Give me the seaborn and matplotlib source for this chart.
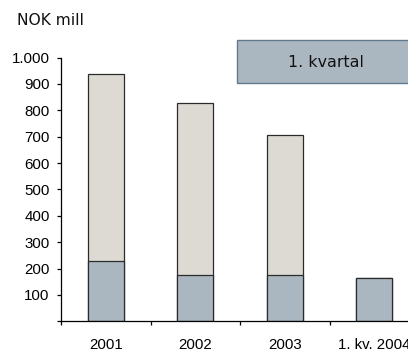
import matplotlib
matplotlib.use("Agg")
import matplotlib.pyplot as plt
import matplotlib.patches as mpatches
from matplotlib.ticker import FixedLocator, FuncFormatter
import seaborn as sns
import pandas as pd

# Values in NOK mill
periods = ["2001", "2002", "2003", "1. kv. 2004"]
lower = [229, 174, 174, 163]
upper = [707, 655, 533, 0]
y_ticks = [0, 100, 200, 300, 400, 500, 600, 700, 800, 900, 1000]

totals = [a + b for a, b in zip(lower, upper)]
df = pd.DataFrame({"period": periods, "lower": lower, "total": totals})

sns.set_theme(style="white")
plt.rcParams["font.family"] = ["Liberation Sans", "DejaVu Sans"]

fig = plt.figure(figsize=(4.08, 3.53), dpi=100)
ax = fig.add_axes([61 / 408, 31.7 / 353, 358 / 408, 263.8 / 353])

light = "#dcdad3"
dark = "#abb7c0"
edge = "#2b2b2b"

sns.barplot(data=df, x="period", y="total", order=periods, color=light,
            saturation=1, width=0.4, edgecolor=edge, linewidth=0.9, ax=ax)
sns.barplot(data=df, x="period", y="lower", order=periods, color=dark,
            saturation=1, width=0.4, edgecolor=edge, linewidth=0.9, ax=ax)

ax.set_xlim(-0.5, 3.5)
ax.set_ylim(0, 1000)
ax.set_xlabel("")
ax.set_ylabel("")

for s in ["top", "right"]:
    ax.spines[s].set_visible(False)
for s in ["left", "bottom"]:
    ax.spines[s].set_color("black")
    ax.spines[s].set_linewidth(0.9)

# y axis: dotted thousands separator, no label at zero
ax.yaxis.set_major_locator(FixedLocator(y_ticks))
ax.yaxis.set_major_formatter(FuncFormatter(
    lambda v, p: "" if v == 0 else f"{int(v):,}".replace(",", ".")))
ax.tick_params(axis="y", which="major", left=True, direction="out",
               length=3.2, width=0.9, color="black", pad=5,
               labelsize=10.8, labelcolor="black")

# x axis: ticks between categories, labels centred under bars
ax.xaxis.set_major_locator(FixedLocator([-0.5, 0.5, 1.5, 2.5, 3.5]))
ax.xaxis.set_major_formatter(FuncFormatter(lambda v, p: ""))
ax.xaxis.set_minor_locator(FixedLocator([0, 1, 2, 3]))
ax.xaxis.set_minor_formatter(FuncFormatter(lambda v, p: periods[int(round(v))]))
ax.tick_params(axis="x", which="major", bottom=True, direction="out",
               length=3.2, width=0.9, color="black")
ax.tick_params(axis="x", which="minor", bottom=True, length=0, pad=12.0,
               labelsize=10.8, labelcolor="black")

fig.text(16.7 / 408, 1 - 25.3 / 353, "NOK mill", fontsize=11.2,
         family="DejaVu Sans", color="#111111", ha="left", va="baseline")

box = mpatches.Rectangle((236.7 / 408, 1 - 82.7 / 353), (415 - 236.7) / 408,
                         42.4 / 353, transform=fig.transFigure,
                         facecolor="#abb7c0", edgecolor="#5f7a8f",
                         linewidth=1.0, clip_on=False)
fig.patches.append(box)
fig.text(325.8 / 408, 1 - 62.3 / 353, "1. kvartal", fontsize=11.4,
         family="DejaVu Sans", color="#111111", ha="center", va="center")

fig.savefig("out.png", dpi=100)
